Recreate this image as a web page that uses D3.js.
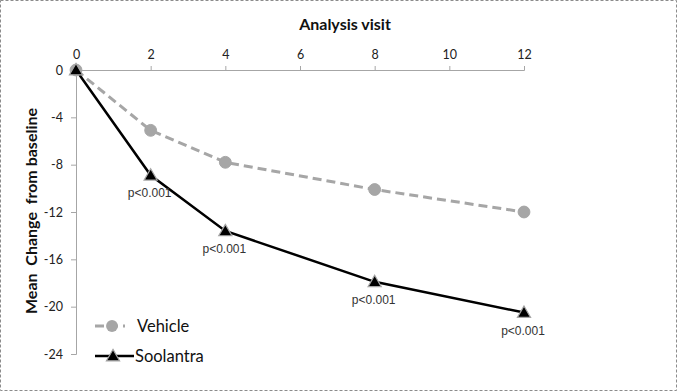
<!DOCTYPE html>
<html><head><meta charset="utf-8">
<script src="https://cdn.jsdelivr.net/npm/d3@7"></script>
<style>body{margin:0;background:#fff}svg{display:block}</style>
</head><body>
<svg id="c" width="678" height="392"></svg>
<script>
const visits = [0, 2, 4, 8, 12];
const vehicle = [0, -5.1, -7.8, -10.1, -12.0];
const soolantra = [0, -8.9, -13.6, -17.9, -20.5];
const pLabels = ["", "p<0.001", "p<0.001", "p<0.001", "p<0.001"];
const xTicks = [0, 2, 4, 6, 8, 10, 12];
const yTicks = [0, -4, -8, -12, -16, -20, -24];
const seriesNames = ["Vehicle", "Soolantra"];

const svg = d3.select("#c");
const font = "Lato, 'Open Sans', sans-serif";
svg.append("rect").attr("x", 0.5).attr("y", 0.5).attr("width", 676).attr("height", 390)
  .attr("fill", "#fff").attr("stroke", "#8c8c8c").attr("stroke-dasharray", "3,2");

const x = d3.scaleLinear().domain([0, 12]).range([76, 524]);
const y = d3.scaleLinear().domain([0, -24]).range([70, 354]);

const xa = svg.append("g").attr("transform", "translate(0,70)")
  .call(d3.axisTop(x).tickValues(xTicks).tickSize(4).tickPadding(7).tickFormat(d3.format("d")));
const ya = svg.append("g").attr("transform", "translate(76,0)")
  .call(d3.axisLeft(y).tickValues(yTicks).tickSize(5).tickPadding(8).tickFormat(d => d === 0 ? "0" : "-" + Math.abs(d)));
[xa, ya].forEach(a => {
  a.select(".domain").attr("stroke", "#a6a6a6");
  a.selectAll(".tick line").attr("stroke", "#a6a6a6");
  a.selectAll("text").attr("font-family", font).attr("font-size", 12.5).attr("fill", "#222");
});

svg.append("text").attr("x", 345).attr("y", 30).attr("text-anchor", "middle")
  .attr("font-family", font).attr("font-weight", "bold").attr("font-size", 16).attr("fill", "#111")
  .text("Analysis visit");
svg.append("text").attr("transform", "translate(37,211) rotate(-90)").attr("text-anchor", "middle")
  .attr("font-family", font).attr("font-weight", "bold").attr("font-size", 16).attr("fill", "#111")
  .attr("xml:space", "preserve").style("white-space", "pre")
  .text("Mean  Change  from baseline");

const line = d3.line().x((d, i) => x(visits[i])).y(d => y(d));
svg.append("path").datum(vehicle).attr("d", line).attr("fill", "none")
  .attr("stroke", "#a6a6a6").attr("stroke-width", 3).attr("stroke-dasharray", "9,5");
svg.append("path").datum(soolantra).attr("d", line).attr("fill", "none")
  .attr("stroke", "#000").attr("stroke-width", 2.5);

const circ = d3.symbol().type(d3.symbolCircle).size(110);
const tri = d3.symbol().type(d3.symbolTriangle).size(75);
svg.append("g").selectAll("path").data(vehicle).join("path")
  .attr("transform", (d, i) => `translate(${x(visits[i])},${y(d)})`)
  .attr("d", circ).attr("fill", "#a6a6a6").attr("stroke", "#a6a6a6");
svg.append("g").selectAll("path").data(soolantra).join("path")
  .attr("transform", (d, i) => `translate(${x(visits[i])},${y(d) + 1})`)
  .attr("d", tri).attr("fill", "#000").attr("stroke", "#a6a6a6").attr("stroke-width", 1.2);

svg.append("g").selectAll("text").data(soolantra).join("text")
  .attr("x", (d, i) => x(visits[i]) - 1).attr("y", d => y(d) + 22)
  .attr("text-anchor", "middle").attr("font-family", "'Liberation Sans', Arial, sans-serif")
  .attr("font-size", 12).attr("fill", "#333")
  .text((d, i) => pLabels[i]);

// legend
const lg = svg.append("g");
lg.append("line").attr("x1", 95).attr("x2", 125).attr("y1", 326).attr("y2", 326)
  .attr("stroke", "#a6a6a6").attr("stroke-width", 3).attr("stroke-dasharray", "9,5");
lg.append("path").attr("transform", "translate(112,326)").attr("d", circ).attr("fill", "#a6a6a6");
lg.append("text").attr("x", 137).attr("y", 332).attr("font-family", font).attr("font-size", 16.5)
  .attr("fill", "#111").text(seriesNames[0]);
lg.append("line").attr("x1", 95).attr("x2", 134).attr("y1", 356).attr("y2", 356)
  .attr("stroke", "#000").attr("stroke-width", 2.5);
lg.append("path").attr("transform", "translate(113,357)").attr("d", tri).attr("fill", "#000")
  .attr("stroke", "#a6a6a6").attr("stroke-width", 1.2);
lg.append("text").attr("x", 135).attr("y", 362).attr("font-family", font).attr("font-size", 16.5)
  .attr("fill", "#111").text(seriesNames[1]);
</script>
</body></html>
